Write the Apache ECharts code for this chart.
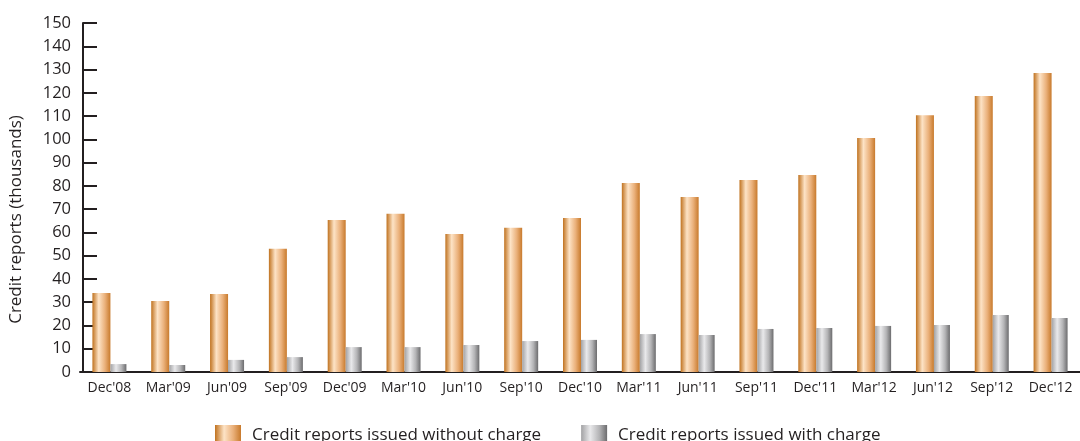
<!DOCTYPE html>
<html>
<head>
<meta charset="utf-8">
<script src="https://cdn.jsdelivr.net/npm/echarts@6/dist/echarts.min.js"></script>
<style>
  html, body { margin: 0; padding: 0; background: #fff; }
  #chart { width: 1080px; height: 441px; }
</style>
</head>
<body>
<div id="chart"></div>
<script>
var quarters = ["Dec'08", "Mar'09", "Jun'09", "Sep'09", "Dec'09", "Mar'10", "Jun'10", "Sep'10", "Dec'10",
    "Mar'11", "Jun'11", "Sep'11", "Dec'11", "Mar'12", "Jun'12", "Sep'12", "Dec'12"]
var without_charge = [34, 30.5, 33.5, 53, 65.3, 68, 59.3, 62, 66.2, 81.2, 75.2, 82.5, 84.7, 100.6, 110.4, 118.6, 128.5]
var with_charge = [3.4, 3, 5.2, 6.4, 10.7, 10.7, 11.6, 13.3, 13.8, 16.3, 15.9, 18.5, 18.9, 19.8, 20.2, 24.5, 23.2]
var y_ticks = [0, 10, 20, 30, 40, 50, 60, 70, 80, 90, 100, 110, 120, 130, 140, 150]

var font = 'Open Sans'

// horizontal gradients, like the shaded cylinders in the original
var orange = new echarts.graphic.LinearGradient(0, 0, 1, 0, [
    { offset: 0, color: '#c0721f' },
    { offset: 0.35, color: '#fde3c6' },
    { offset: 0.7, color: '#eab07a' },
    { offset: 1, color: '#c87a2c' }
])
var grey = new echarts.graphic.LinearGradient(0, 0, 1, 0, [
    { offset: 0, color: '#a2a2a4' },
    { offset: 0.35, color: '#e9e9eb' },
    { offset: 0.7, color: '#b4b4b6' },
    { offset: 1, color: '#6c6c6e' }
])

var myChart = echarts.init(document.getElementById('chart'), null, { renderer: 'canvas' })

var option = {
    animation: false,
    textStyle: { fontFamily: font, color: '#231f20' },
    legend: {
        bottom: -9,
        left: 210,
        icon: 'rect',
        itemWidth: 26,
        itemHeight: 20,
        itemGap: 40,
        textStyle: { fontFamily: font, fontSize: 17, color: '#231f20', padding: [0, 0, 0, 6] },
        data: ['Credit reports issued without charge', 'Credit reports issued with charge']
    },
    grid: {
        left: 80,
        top: 23,
        width: 1005,
        height: 349
    },
    xAxis: {
        type: 'category',
        data: quarters,
        axisLine: { lineStyle: { color: '#231f20', width: 2 } },
        axisTick: { show: false },
        axisLabel: { fontFamily: font, fontSize: 14, color: '#231f20', margin: 9, interval: 0 }
    },
    yAxis: {
        type: 'value',
        min: 0,
        max: 150,
        interval: 10,
        name: 'Credit reports (thousands)',
        nameLocation: 'middle',
        nameGap: 58,
        nameTextStyle: { fontFamily: font, fontSize: 17, color: '#231f20', padding: [0, 44, 0, 0] },
        offset: -3,
        axisLine: { show: true, lineStyle: { color: '#231f20', width: 2 } },
        axisTick: { show: true, inside: true, length: 14, lineStyle: { color: '#231f20', width: 2 } },
        splitLine: { show: false },
        axisLabel: {
            fontFamily: font, fontSize: 16.5, color: '#231f20', margin: 12,
            formatter: function (v) { return y_ticks.indexOf(v) >= 0 ? String(v) : '' }
        }
    },
    series: [
        {
            name: 'Credit reports issued without charge',
            type: 'bar',
            barWidth: 18,
            barGap: '0%',
            itemStyle: { color: orange },
            data: without_charge
        },
        {
            name: 'Credit reports issued with charge',
            type: 'bar',
            barWidth: 16,
            barGap: '0%',
            itemStyle: { color: grey },
            data: with_charge
        }
    ]
}

option && myChart.setOption(option)
</script>
</body>
</html>
